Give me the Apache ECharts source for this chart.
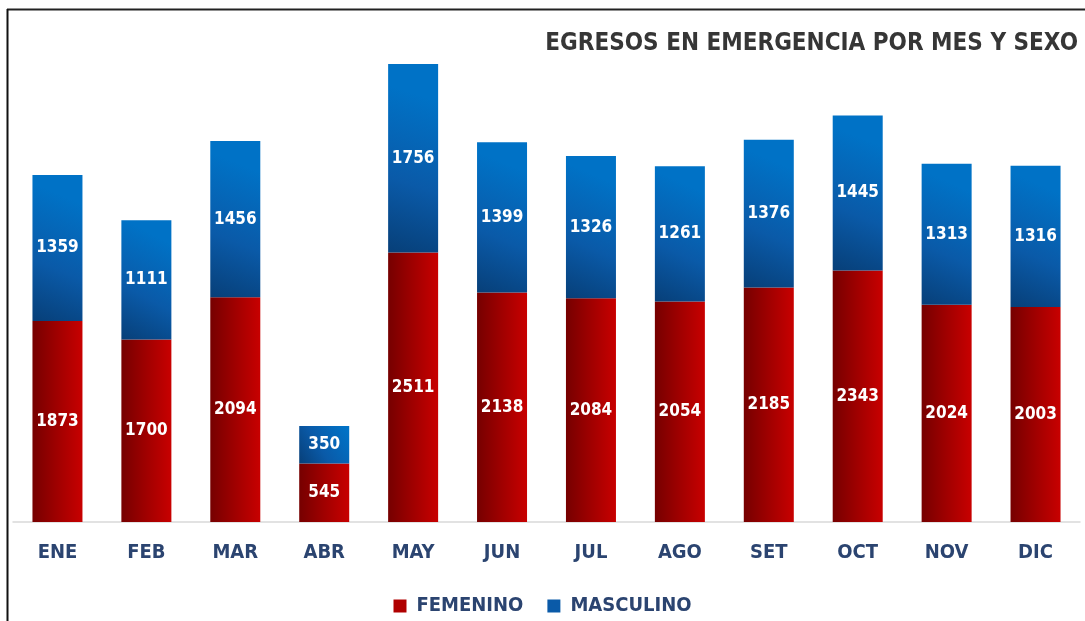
<!DOCTYPE html>
<html>
<head>
<meta charset="utf-8">
<script src="https://cdn.jsdelivr.net/npm/echarts@6/dist/echarts.min.js"></script>
<style>
  html, body { margin: 0; padding: 0; background: #fff; }
  #chart { width: 1085px; height: 621px; }
</style>
</head>
<body>
<div id="chart"></div>
<script>
const months = ['ENE', 'FEB', 'MAR', 'ABR', 'MAY', 'JUN', 'JUL', 'AGO', 'SET', 'OCT', 'NOV', 'DIC'];
const femenino = [1873, 1700, 2094, 545, 2511, 2138, 2084, 2054, 2185, 2343, 2024, 2003];
const masculino = [1359, 1111, 1456, 350, 1756, 1399, 1326, 1261, 1376, 1445, 1313, 1316];

const chart = echarts.init(document.getElementById('chart'));
const narrow = 'Liberation Sans Narrow, DejaVu Sans Condensed, sans-serif';

const redFill = new echarts.graphic.LinearGradient(0, 0, 1, 0, [
  { offset: 0, color: '#760000' },
  { offset: 0.5, color: '#a00000' },
  { offset: 1, color: '#c80000' }
]);
const blueFill = new echarts.graphic.LinearGradient(0, 1, 1, 0.2, [
  { offset: 0, color: '#073f78' },
  { offset: 0.45, color: '#0a5aa8' },
  { offset: 1, color: '#0072c6' }
]);

const labelStyle = {
  show: true,
  position: 'inside',
  color: '#fff',
  fontWeight: 'bold',
  fontSize: 17,
  fontFamily: narrow
};

chart.setOption({
  animation: false,
  title: {
    text: 'EGRESOS EN EMERGENCIA POR MES Y SEXO',
    right: 2,
    top: 27,
    textStyle: {
      color: '#363636',
      fontSize: 24,
      fontWeight: 'bold',
      fontFamily: narrow
    }
  },
  legend: {
    bottom: 0,
    left: 'center',
    itemWidth: 13,
    itemHeight: 13,
    itemGap: 24,
    icon: 'rect',
    textStyle: {
      color: '#2b4470',
      fontSize: 20,
      fontWeight: 'bold',
      fontFamily: narrow,
      padding: [0, 0, 0, 5]
    },
    data: [
      { name: 'FEMENINO', itemStyle: { color: '#b00000' } },
      { name: 'MASCULINO', itemStyle: { color: '#0a5aa8' } }
    ]
  },
  grid: { left: 13, right: 5, top: 39, bottom: 99, containLabel: false },
  xAxis: {
    type: 'category',
    data: months,
    axisTick: { show: false },
    axisLine: { lineStyle: { color: '#d9d9d9', width: 1.5 } },
    axisLabel: {
      color: '#2b4470',
      fontSize: 20,
      fontWeight: 'bold',
      margin: 21,
      fontFamily: narrow
    }
  },
  yAxis: {
    type: 'value',
    min: 0,
    max: 4500,
    show: false,
    splitLine: { show: false }
  },
  series: [
    {
      name: 'FEMENINO',
      type: 'bar',
      stack: 'total',
      barWidth: 50,
      data: femenino,
      itemStyle: { color: redFill },
      label: labelStyle
    },
    {
      name: 'MASCULINO',
      type: 'bar',
      stack: 'total',
      barWidth: 50,
      data: masculino,
      itemStyle: { color: blueFill },
      label: labelStyle
    }
  ],
  graphic: [
    { type: 'line', shape: { x1: 7, y1: 9.5, x2: 1085, y2: 9.5 }, style: { stroke: '#222', lineWidth: 2 } },
    { type: 'line', shape: { x1: 7.5, y1: 9, x2: 7.5, y2: 621 }, style: { stroke: '#111', lineWidth: 2 } }
  ]
});
</script>
</body>
</html>
